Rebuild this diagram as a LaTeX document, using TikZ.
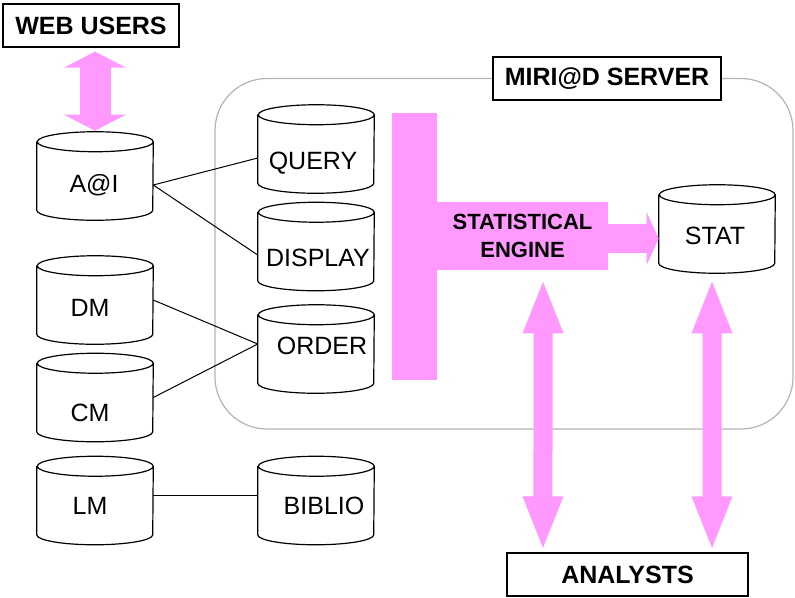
\documentclass[tikz,border=0pt]{standalone}
\usepackage{fontspec}
\setmainfont{Liberation Sans}
\usetikzlibrary{arrows.meta}
\definecolor{pinkfill}{RGB}{255,153,255}
\definecolor{servergray}{RGB}{180,180,180}

\tikzset{
    db/.style = {minimum width = 87pt, minimum height = 66pt, inner sep = 0pt,
        append after command = {\pgfextra{\let\dbnode\tikzlastnode
            \draw[line width = 0.9pt] ([yshift = -7.5pt]\dbnode.north west)
                -- ([yshift = 7.5pt]\dbnode.south west)
                arc[start angle = 180, end angle = 360, x radius = 43.5pt, y radius = 7.5pt]
                -- ([yshift = -7.5pt]\dbnode.north east)
                arc[start angle = 0, end angle = 360, x radius = 43.5pt, y radius = 7.5pt];}}},
    dblabel/.style = {font = {\fontsize{18.75}{20}\selectfont}, inner sep = 0pt, anchor = base},
    boxlabel/.style = {draw, fill = white, line width = 0.9pt, inner sep = 0pt,
        minimum height = 32.25pt, font = {\fontsize{18.75}{20}\selectfont\bfseries}},
    link/.style = {line width = 0.75pt},
    webarrow/.style = {pinkfill, line width = 23.25pt,
        {Triangle[width = 45.75pt, length = 12pt]}-{Triangle[width = 45.75pt, length = 12pt]}},
    tallarrow/.style = {pinkfill, line width = 14.25pt,
        {Triangle[width = 27pt, length = 41.25pt]}-{Triangle[width = 27pt, length = 41.25pt]}},
    feedarrow/.style = {pinkfill, line width = 21.75pt, -{Triangle[width = 39pt, length = 9pt]}}
}

\begin{document}
\begin{tikzpicture}[x = 0.75pt, y = -0.75pt]
    \useasboundingbox (0, 0) rectangle (795, 597);

    % server frame
    \draw[servergray, line width = 0.9pt, rounded corners = 39pt] (215, 78.5) rectangle (793, 429);

    % boxes
    \node[boxlabel, minimum width = 132pt] (web) at (91, 25.5) {WEB USERS};
    \node[boxlabel, minimum width = 171pt] (server) at (607, 78.5) {MIRI@D SERVER};
    \node[boxlabel, minimum width = 180.75pt] (analysts) at (627.5, 574.5) {ANALYSTS};

    % databases
    \node[db] (ai) at (95, 176) {};
    \node[db] (dm) at (95, 300) {};
    \node[db] (cm) at (95, 397.5) {};
    \node[db] (lm) at (95, 500.5) {};
    \node[db] (query) at (316, 149) {};
    \node[db] (display) at (316, 246.5) {};
    \node[db] (order) at (316, 349) {};
    \node[db] (biblio) at (316, 500.5) {};
    \node[db] (stat) at (717, 229) {};

    \node[dblabel] (ai-t) at (94, 192) {A@I};
    \node[dblabel] (dm-t) at (90, 316) {DM};
    \node[dblabel] (cm-t) at (90, 421) {CM};
    \node[dblabel] (lm-t) at (90, 514) {LM};
    \node[dblabel] (query-t) at (313, 169) {QUERY};
    \node[dblabel] (display-t) at (318, 266) {DISPLAY};
    \node[dblabel] (order-t) at (322, 354) {ORDER};
    \node[dblabel] (biblio-t) at (324, 514) {BIBLIO};
    \node[dblabel] (stat-t) at (715, 244) {STAT};

    % statistical engine
    \fill[pinkfill] (392, 113) rectangle (437, 380);
    \node[fill = pinkfill, minimum width = 128.25pt, minimum height = 51pt, inner sep = 0pt,
        align = center, font = {\fontsize{16.5}{21}\selectfont\bfseries}] (engine) at (522.5, 236)
        {STATISTICAL\\ENGINE};

    % links
    \draw[link] ([yshift = -6.75pt]ai.east) -- ([yshift = -6.75pt]query.west);
    \draw[link] ([yshift = -6.75pt]ai.east) -- ([yshift = -6.4pt]display.west);
    \draw[link] (dm.east) -- ([yshift = 3.75pt]order.west);
    \draw[link] (cm.east) -- ([yshift = 3.75pt]order.west);
    \draw[link] ([yshift = 3.4pt]lm.east) -- ([yshift = 3.4pt]biblio.west);

    % pink arrows
    \draw[webarrow] ([yshift = 0.75pt]ai.north) -- ([yshift = -3pt]ai.north |- web.south);
    \draw[feedarrow] ([yshift = -1.9pt]engine.east) -- ([yshift = -1.9pt]engine.east -| stat.west);
    \draw[tallarrow] ([xshift = 15.4pt, yshift = -6pt]engine.south) -- ([xshift = -63.4pt, yshift = 0.75pt]analysts.north);
    \draw[tallarrow] ([xshift = -3.75pt, yshift = -3.75pt]stat.south) -- ([xshift = 63.4pt, yshift = 0.75pt]analysts.north);
\end{tikzpicture}
\end{document}
